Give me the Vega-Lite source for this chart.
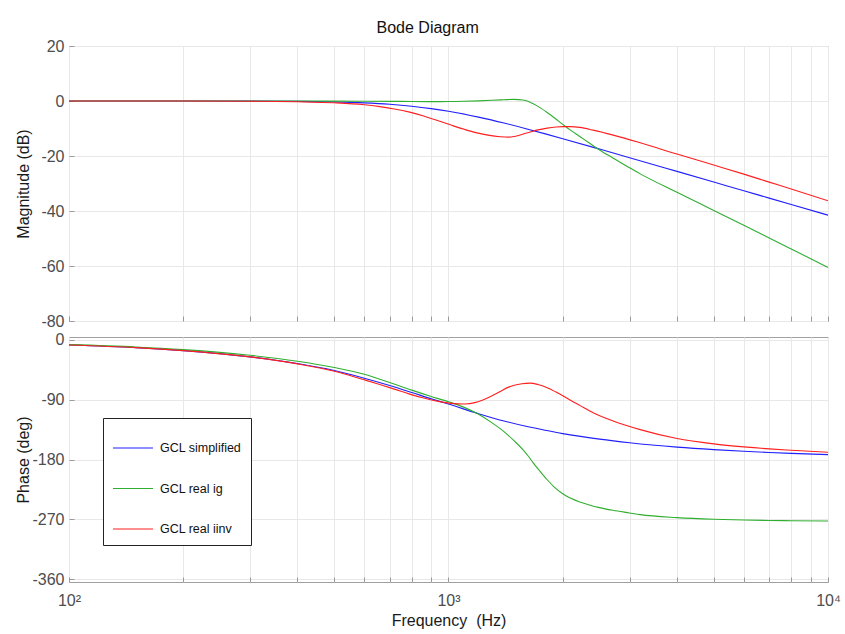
{
  "$schema": "https://vega.github.io/schema/vega-lite/v6.json",
  "background": "white",
  "padding": {"left": 14, "top": 19, "right": 5, "bottom": 5},
  "title": {"text": "Bode Diagram", "fontSize": 16, "fontWeight": "normal", "font": "Liberation Sans", "color": "#111111", "offset": 2, "anchor": "middle"},
  "config": {
    "font": "Liberation Sans",
    "view": {"stroke": "#a0a0a0", "strokeWidth": 1},
    "axis": {
      "labelFont": "Liberation Sans", "labelFontSize": 16, "labelColor": "#4d4d4d",
      "titleFont": "Liberation Sans", "titleFontSize": 16, "titleFontWeight": "normal", "titleColor": "#1a1a1a",
      "gridColor": "#e8e8e8", "gridWidth": 1, "ticks": true, "tickSize": -5, "tickColor": "#9a9a9a", "domain": false
    },
    "line": {"strokeWidth": 1.1, "interpolate": "monotone"}
  },
  "datasets": {
    "bode": [
      {"series": "simplified", "f": 100, "mag": 0, "phase": -7.5},
      {"series": "simplified", "f": 150, "mag": 0, "phase": -11.5},
      {"series": "simplified", "f": 200, "mag": 0, "phase": -16},
      {"series": "simplified", "f": 300, "mag": -0.03, "phase": -25.5},
      {"series": "simplified", "f": 400, "mag": -0.12, "phase": -35.5},
      {"series": "simplified", "f": 500, "mag": -0.32, "phase": -46},
      {"series": "simplified", "f": 600, "mag": -0.67, "phase": -57.5},
      {"series": "simplified", "f": 700, "mag": -1.19, "phase": -68.5},
      {"series": "simplified", "f": 800, "mag": -1.9, "phase": -79},
      {"series": "simplified", "f": 900, "mag": -2.76, "phase": -88.5},
      {"series": "simplified", "f": 1000, "mag": -3.74, "phase": -96.5},
      {"series": "simplified", "f": 1200, "mag": -5.87, "phase": -111},
      {"series": "simplified", "f": 1400, "mag": -8.02, "phase": -122},
      {"series": "simplified", "f": 1600, "mag": -10.06, "phase": -130},
      {"series": "simplified", "f": 1800, "mag": -11.96, "phase": -136},
      {"series": "simplified", "f": 2000, "mag": -13.7, "phase": -141},
      {"series": "simplified", "f": 2500, "mag": -17.48, "phase": -149.3},
      {"series": "simplified", "f": 3000, "mag": -20.61, "phase": -154.7},
      {"series": "simplified", "f": 4000, "mag": -25.59, "phase": -161.3},
      {"series": "simplified", "f": 5000, "mag": -29.46, "phase": -165.1},
      {"series": "simplified", "f": 6000, "mag": -32.63, "phase": -167.6},
      {"series": "simplified", "f": 7000, "mag": -35.31, "phase": -169.4},
      {"series": "simplified", "f": 8000, "mag": -37.63, "phase": -170.8},
      {"series": "simplified", "f": 10000, "mag": -41.5, "phase": -172.6},

      {"series": "real i_g", "f": 100, "mag": 0, "phase": -7},
      {"series": "real i_g", "f": 150, "mag": 0, "phase": -10.5},
      {"series": "real i_g", "f": 200, "mag": 0, "phase": -14.5},
      {"series": "real i_g", "f": 300, "mag": 0, "phase": -23},
      {"series": "real i_g", "f": 400, "mag": -0.02, "phase": -32},
      {"series": "real i_g", "f": 500, "mag": -0.05, "phase": -41.5},
      {"series": "real i_g", "f": 600, "mag": -0.08, "phase": -51.5},
      {"series": "real i_g", "f": 700, "mag": -0.12, "phase": -64},
      {"series": "real i_g", "f": 800, "mag": -0.18, "phase": -75.5},
      {"series": "real i_g", "f": 900, "mag": -0.22, "phase": -85},
      {"series": "real i_g", "f": 1000, "mag": -0.2, "phase": -93},
      {"series": "real i_g", "f": 1100, "mag": -0.1, "phase": -101.5},
      {"series": "real i_g", "f": 1200, "mag": 0.05, "phase": -112},
      {"series": "real i_g", "f": 1300, "mag": 0.25, "phase": -124.5},
      {"series": "real i_g", "f": 1400, "mag": 0.45, "phase": -138},
      {"series": "real i_g", "f": 1490, "mag": 0.6, "phase": -152},
      {"series": "real i_g", "f": 1570, "mag": 0.35, "phase": -165},
      {"series": "real i_g", "f": 1618, "mag": -0.1, "phase": -174},
      {"series": "real i_g", "f": 1672, "mag": -1.0, "phase": -185},
      {"series": "real i_g", "f": 1750, "mag": -2.6, "phase": -199},
      {"series": "real i_g", "f": 1820, "mag": -4.2, "phase": -210.5},
      {"series": "real i_g", "f": 1900, "mag": -6.1, "phase": -221.5},
      {"series": "real i_g", "f": 2000, "mag": -8.5, "phase": -231.5},
      {"series": "real i_g", "f": 2100, "mag": -10.7, "phase": -238.5},
      {"series": "real i_g", "f": 2218, "mag": -12.9, "phase": -244},
      {"series": "real i_g", "f": 2350, "mag": -15.3, "phase": -248.5},
      {"series": "real i_g", "f": 2500, "mag": -17.8, "phase": -252.5},
      {"series": "real i_g", "f": 2710, "mag": -20.7, "phase": -256.5},
      {"series": "real i_g", "f": 3000, "mag": -24.3, "phase": -260.5},
      {"series": "real i_g", "f": 3200, "mag": -26.5, "phase": -263},
      {"series": "real i_g", "f": 4000, "mag": -33.2, "phase": -267.5},
      {"series": "real i_g", "f": 5000, "mag": -39.8, "phase": -270},
      {"series": "real i_g", "f": 6000, "mag": -45.2, "phase": -271.2},
      {"series": "real i_g", "f": 7000, "mag": -49.8, "phase": -271.9},
      {"series": "real i_g", "f": 8000, "mag": -53.8, "phase": -272.2},
      {"series": "real i_g", "f": 10000, "mag": -60.5, "phase": -272.6},

      {"series": "real i_inv", "f": 100, "mag": 0, "phase": -7.5},
      {"series": "real i_inv", "f": 150, "mag": 0, "phase": -11.5},
      {"series": "real i_inv", "f": 200, "mag": 0, "phase": -16},
      {"series": "real i_inv", "f": 300, "mag": -0.1, "phase": -25.5},
      {"series": "real i_inv", "f": 400, "mag": -0.3, "phase": -36},
      {"series": "real i_inv", "f": 500, "mag": -0.65, "phase": -47},
      {"series": "real i_inv", "f": 600, "mag": -1.35, "phase": -60},
      {"series": "real i_inv", "f": 659, "mag": -2.04, "phase": -67},
      {"series": "real i_inv", "f": 720, "mag": -2.88, "phase": -74},
      {"series": "real i_inv", "f": 790, "mag": -4.05, "phase": -81.5},
      {"series": "real i_inv", "f": 860, "mag": -5.45, "phase": -87.5},
      {"series": "real i_inv", "f": 940, "mag": -7.2, "phase": -92.5},
      {"series": "real i_inv", "f": 1020, "mag": -8.85, "phase": -95.5},
      {"series": "real i_inv", "f": 1100, "mag": -10.3, "phase": -96.3},
      {"series": "real i_inv", "f": 1180, "mag": -11.5, "phase": -94},
      {"series": "real i_inv", "f": 1270, "mag": -12.4, "phase": -87},
      {"series": "real i_inv", "f": 1368, "mag": -13.0, "phase": -77.5},
      {"series": "real i_inv", "f": 1440, "mag": -13.15, "phase": -71},
      {"series": "real i_inv", "f": 1490, "mag": -12.9, "phase": -68.3},
      {"series": "real i_inv", "f": 1560, "mag": -12.2, "phase": -66},
      {"series": "real i_inv", "f": 1641, "mag": -11.3, "phase": -65},
      {"series": "real i_inv", "f": 1720, "mag": -10.5, "phase": -67},
      {"series": "real i_inv", "f": 1820, "mag": -9.85, "phase": -71.8},
      {"series": "real i_inv", "f": 1920, "mag": -9.45, "phase": -78.5},
      {"series": "real i_inv", "f": 2000, "mag": -9.3, "phase": -84},
      {"series": "real i_inv", "f": 2100, "mag": -9.3, "phase": -91},
      {"series": "real i_inv", "f": 2218, "mag": -9.6, "phase": -98.5},
      {"series": "real i_inv", "f": 2405, "mag": -10.6, "phase": -109.5},
      {"series": "real i_inv", "f": 2716, "mag": -12.4, "phase": -122},
      {"series": "real i_inv", "f": 3200, "mag": -15.2, "phase": -135},
      {"series": "real i_inv", "f": 4000, "mag": -19.3, "phase": -148.5},
      {"series": "real i_inv", "f": 5000, "mag": -23.3, "phase": -156.5},
      {"series": "real i_inv", "f": 6000, "mag": -26.6, "phase": -161},
      {"series": "real i_inv", "f": 7000, "mag": -29.5, "phase": -164},
      {"series": "real i_inv", "f": 8000, "mag": -32, "phase": -166},
      {"series": "real i_inv", "f": 10000, "mag": -36.3, "phase": -169}
    ]
  },
  "spacing": 1,
  "resolve": {"legend": {"color": "independent"}},
  "vconcat": [
    {
      "width": 759,
      "height": 275,
      "data": {"name": "bode"},
      "mark": {"type": "line", "clip": true},
      "encoding": {
        "x": {
          "field": "f", "type": "quantitative",
          "scale": {"type": "log", "domain": [100, 10000], "nice": false},
          "axis": {"values": [100, 200, 300, 400, 500, 600, 700, 800, 900, 1000, 2000, 3000, 4000, 5000, 6000, 7000, 8000, 9000, 10000], "labels": false, "title": null, "grid": true}
        },
        "y": {
          "field": "mag", "type": "quantitative",
          "scale": {"domain": [-80, 20], "nice": false, "zero": false},
          "axis": {"values": [-80, -60, -40, -20, 0, 20], "labelExpr": "'' + datum.value", "title": "Magnitude (dB)", "titleX": -38, "labelPadding": 10}
        },
        "color": {
          "field": "series", "type": "nominal",
          "scale": {"domain": ["simplified", "real i_g", "real i_inv"], "range": ["#1f1fff", "#2fae2f", "#ff1f1f"]},
          "legend": null
        }
      }
    },
    {
      "width": 759,
      "height": 245,
      "data": {"name": "bode"},
      "mark": {"type": "line", "clip": true},
      "encoding": {
        "x": {
          "field": "f", "type": "quantitative",
          "scale": {"type": "log", "domain": [100, 10000], "nice": false},
          "axis": {
            "values": [100, 200, 300, 400, 500, 600, 700, 800, 900, 1000, 2000, 3000, 4000, 5000, 6000, 7000, 8000, 9000, 10000],
            "labelExpr": "datum.value == 100 ? '10²' : datum.value == 1000 ? '10³' : datum.value == 10000 ? '10⁴' : ''",
            "labelOverlap": false, "labelFlush": false, "labelBound": false, "labelPadding": 15,
            "title": "Frequency\u00a0 (Hz)", "titlePadding": 4, "grid": true
          }
        },
        "y": {
          "field": "phase", "type": "quantitative",
          "scale": {"domain": [-364.5, 4.5], "nice": false, "zero": false},
          "axis": {"values": [-360, -270, -180, -90, 0], "labelExpr": "'' + datum.value", "title": "Phase (deg)", "titleX": -38, "labelPadding": 10}
        },
        "color": {
          "field": "series", "type": "nominal",
          "scale": {"domain": ["simplified", "real i_g", "real i_inv"], "range": ["#1f1fff", "#2fae2f", "#ff1f1f"]},
          "legend": {
            "orient": "none", "legendX": 34, "legendY": 81, "title": null,
            "strokeColor": "#222222", "fillColor": "white", "padding": 9,
            "symbolType": "stroke", "symbolSize": 1600, "symbolStrokeWidth": 1.2,
            "rowPadding": 12.5, "labelFontSize": 12.5, "labelColor": "#111111", "labelOffset": 6,
            "labelExpr": "datum.label == 'simplified' ? 'GCL simplified' : datum.label == 'real i_g' ? 'GCL real ig' : 'GCL real iinv'"
          }
        }
      }
    }
  ]
}
